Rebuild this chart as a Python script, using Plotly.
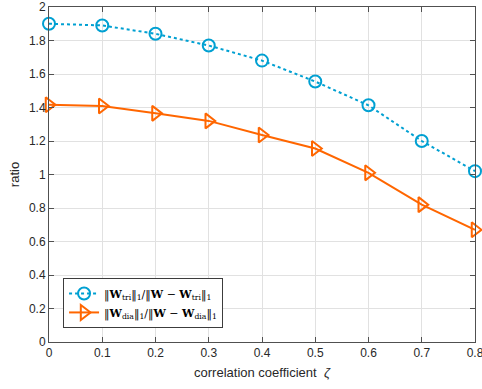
import plotly.graph_objects as go

zeta = [0, 0.1, 0.2, 0.3, 0.4, 0.5, 0.6, 0.7, 0.8]
ratio_tri = [1.90, 1.89, 1.84, 1.77, 1.68, 1.555, 1.413, 1.20, 1.02]
ratio_dia = [1.416, 1.409, 1.365, 1.32, 1.236, 1.155, 1.01, 0.82, 0.67]
x_ticks = [0, 0.1, 0.2, 0.3, 0.4, 0.5, 0.6, 0.7, 0.8]
x_labels = ["0", "0.1", "0.2", "0.3", "0.4", "0.5", "0.6", "0.7", "0.8"]
y_ticks = [0, 0.2, 0.4, 0.6, 0.8, 1.0, 1.2, 1.4, 1.6, 1.8, 2.0]
y_labels = ["0", "0.2", "0.4", "0.6", "0.8", "1", "1.2", "1.4", "1.6", "1.8", "2"]

blue = "rgb(0,160,210)"
orange = "rgb(255,102,0)"

name_tri = ("‖<b>W</b><sub>tri</sub>‖<sub>1</sub>/‖<b>W</b> − <b>W</b><sub>tri</sub>‖<sub>1</sub>")
name_dia = ("‖<b>W</b><sub>dia</sub>‖<sub>1</sub>/‖<b>W</b> − <b>W</b><sub>dia</sub>‖<sub>1</sub>")

fig = go.Figure()
fig.add_trace(go.Scatter(
    x=zeta, y=ratio_tri, mode="lines+markers", name=name_tri,
    line=dict(color=blue, width=2, dash="dot"),
    marker=dict(symbol="circle-open", size=12, color=blue, line=dict(width=2, color=blue)),
    cliponaxis=False,
))
fig.add_trace(go.Scatter(
    x=zeta, y=ratio_dia, mode="lines+markers", name=name_dia,
    line=dict(color=orange, width=2),
    marker=dict(symbol="triangle-right-open", size=13, color=orange, line=dict(width=2, color=orange)),
    cliponaxis=False,
))

axis_common = dict(
    showgrid=True, gridcolor="rgb(225,225,225)", gridwidth=1,
    showline=True, linecolor="rgb(80,80,80)", linewidth=1, mirror="ticks",
    ticks="inside", ticklen=5, tickcolor="rgb(80,80,80)",
    zeroline=False, ticklabeloverflow="allow", automargin=False,
    tickfont=dict(family="Liberation Sans, Arial", size=12, color="rgb(40,40,40)"),
)

fig.update_layout(
    width=482, height=389,
    margin=dict(l=49, r=7, t=7, b=47),
    paper_bgcolor="white", plot_bgcolor="white",
    xaxis=dict(range=[0, 0.8], tickvals=x_ticks, ticktext=x_labels,
               title=dict(text="correlation coefficient  <i>ζ</i>", standoff=8,
                          font=dict(family="Liberation Sans, Arial", size=13, color="rgb(40,40,40)")),
               **axis_common),
    yaxis=dict(range=[0, 2], tickvals=y_ticks, ticktext=y_labels,
               title=dict(text="ratio", standoff=6,
                          font=dict(family="Liberation Sans, Arial", size=13, color="rgb(40,40,40)")),
               **axis_common),
    legend=dict(x=0.033, y=0.042, xanchor="left", yanchor="bottom",
                bgcolor="white", bordercolor="rgb(60,60,60)", borderwidth=1,
                font=dict(family="DejaVu Serif, Liberation Serif", size=11, color="black"),
                itemwidth=30, tracegroupgap=0),
    showlegend=True,
)

fig.write_html("out.html")
